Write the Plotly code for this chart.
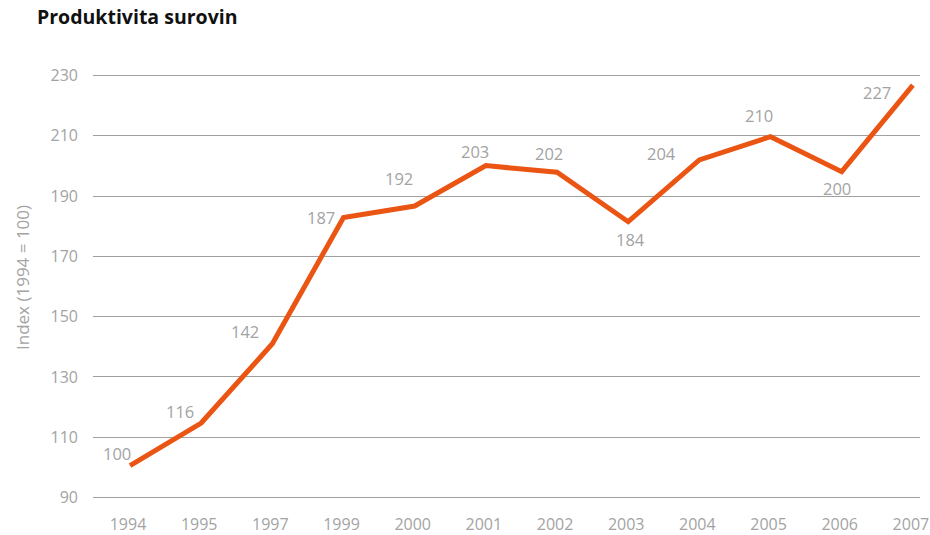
import plotly.graph_objects as go

years = ["1994", "1995", "1997", "1999", "2000", "2001", "2002", "2003", "2004", "2005", "2006", "2007"]
line_values = [100.6, 114.7, 141.0, 182.9, 186.7, 200.1, 197.9, 181.5, 202.0, 209.7, 198.1, 226.8]
label_values = ["100", "116", "142", "187", "192", "203", "202", "184", "204", "210", "200", "227"]
y_ticks = [90, 110, 130, 150, 170, 190, 210, 230]

# label offsets (pixels) relative to each point: style only
label_dx = [-13, -21, -27, -23, -16, -11, -8, 2, -38, -12, -5, -36]
label_dy = [12, 12, 12, 0, 28, 14, 19, -18, 6, 21, -17, -7]

LINE = "#ea5514"
GRAY = "#a3a3a3"
FONT = "Open Sans"

fig = go.Figure()
fig.add_trace(go.Scatter(
    x=years, y=line_values, mode="lines",
    line=dict(color=LINE, width=5), hoverinfo="skip", showlegend=False,
))

for i, (v, t, dx, dy) in enumerate(zip(line_values, label_values, label_dx, label_dy)):
    fig.add_annotation(xref="x", yref="y", x=i, y=v, text=t, showarrow=False, xshift=dx, yshift=dy,
                       font=dict(family=FONT, size=16.5, color=GRAY))

fig.add_annotation(xref="paper", yref="paper", x=(22 - 93) / 827, xanchor="center", y=0.52, yanchor="middle",
                   text="Index (1994 = 100)", textangle=-90, showarrow=False,
                   font=dict(family=FONT, size=17, color=GRAY))

fig.update_layout(
    width=930, height=535,
    margin=dict(l=93, r=10, t=74, b=36, autoexpand=False),
    paper_bgcolor="white", plot_bgcolor="white",
    title=dict(text="<b>Produktivita surovin</b>", x=37 / 930, xanchor="left", y=1 - 17 / 535, yanchor="middle",
               font=dict(family=FONT, size=19.5, color="#111111")),
    xaxis=dict(type="category", range=[-0.52, 11.1], showgrid=False, zeroline=False, showline=False,
               automargin=False, ticks="", ticklabelstandoff=14, ticklabelshift=-2,
               tickfont=dict(family=FONT, size=16, color=GRAY)),
    yaxis=dict(range=[89.5, 230.5], tickvals=y_ticks, showgrid=True, gridcolor="#a0a0a0", gridwidth=1,
               automargin=False, zeroline=False, showline=False, ticks="", ticklabelstandoff=14,
               tickfont=dict(family=FONT, size=16, color=GRAY)),
)

fig.write_html("out.html")
